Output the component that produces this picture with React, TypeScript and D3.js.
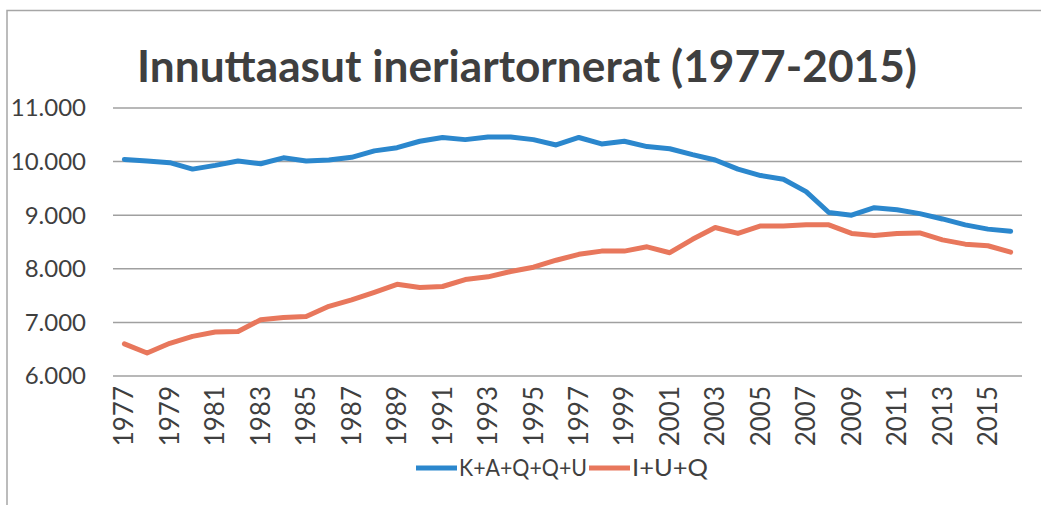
import { useEffect, useRef } from "react";
import * as d3 from "d3";

// Ukiut
const YEARS = d3.range(1977, 2017);

// K+A+Q+Q+U
const SERIES_KAQQU = [
  10040, 10010, 9980, 9860, 9930, 10010, 9960, 10070, 10010, 10030,
  10080, 10200, 10260, 10380, 10450, 10410, 10460, 10460, 10410, 10310,
  10450, 10330, 10380, 10280, 10240, 10130, 10030, 9860, 9740, 9670,
  9440, 9050, 9000, 9140, 9100, 9030, 8930, 8820, 8740, 8700
];

// I+U+Q
const SERIES_IUQ = [
  6600, 6430, 6610, 6740, 6820, 6830, 7050, 7090, 7110, 7300,
  7420, 7560, 7710, 7650, 7670, 7800, 7850, 7950, 8030, 8160,
  8270, 8330, 8330, 8410, 8300, 8550, 8770, 8660, 8800, 8800,
  8820, 8820, 8660, 8620, 8660, 8670, 8540, 8460, 8430, 8310
];

const SERIES_NAMES = ["K+A+Q+Q+U", "I+U+Q"];
const Y_TICKS = [6000, 7000, 8000, 9000, 10000, 11000];
const X_LABELS = YEARS.filter((y) => (y - 1977) % 2 === 0);

const COLORS = ["#2b87cd", "#e8775c"];
const FONT = "Lato, 'Open Sans', sans-serif";

const App = () => {
  const svgRef = useRef<SVGSVGElement>(null);

  useEffect(() => {
    if (!svgRef.current) return;
    const width = 1041;
    const height = 505;
    const svg = d3.select(svgRef.current);
    svg.selectAll("*").remove();

    svg.append("rect").attr("width", width).attr("height", height).attr("fill", "#fff");

    // ramme
    svg.append("path")
      .attr("d", `M7,${height} L7,10.5 L${width},10.5`)
      .attr("fill", "none")
      .attr("stroke", "#a6a6a6")
      .attr("stroke-width", 1.5);

    // Titel
    svg.append("text")
      .attr("x", 527)
      .attr("y", 82)
      .attr("text-anchor", "middle")
      .attr("font-family", FONT)
      .attr("font-weight", 700)
      .attr("font-size", 44)
      .attr("fill", "#3f3f3f")
      .attr("textLength", 780)
      .attr("lengthAdjust", "spacingAndGlyphs")
      .text("Innuttaasut ineriartornerat (1977-2015)");

    const x = d3.scaleBand<number>().domain(YEARS).range([113, 1022]);
    const y = d3.scaleLinear().domain([6000, 11000]).range([376, 108]);
    const cx = (yr: number) => (x(yr) ?? 0) + x.bandwidth() / 2;

    const fmt = d3.formatLocale({
      decimal: ",",
      thousands: ".",
      grouping: [3],
      currency: ["", ""]
    }).format(",.0f");

    // gitter
    svg.append("g")
      .selectAll("line")
      .data(Y_TICKS)
      .enter()
      .append("line")
      .attr("x1", 113)
      .attr("x2", 1022)
      .attr("y1", (d) => y(d))
      .attr("y2", (d) => y(d))
      .attr("stroke", "#a0a0a0")
      .attr("stroke-width", 1.5);

    // y etiketter
    svg.append("g")
      .selectAll("text")
      .data(Y_TICKS)
      .enter()
      .append("text")
      .attr("x", 86)
      .attr("y", (d) => y(d))
      .attr("dy", "0.35em")
      .attr("text-anchor", "end")
      .attr("font-family", FONT)
      .attr("font-size", 24)
      .attr("fill", "#3f3f3f")
      .text((d) => fmt(d));

    // x etiketter
    svg.append("g")
      .selectAll("text")
      .data(X_LABELS)
      .enter()
      .append("text")
      .attr("transform", (d) => `translate(${cx(d)},386) rotate(-90)`)
      .attr("dy", "0.35em")
      .attr("text-anchor", "end")
      .attr("font-family", FONT)
      .attr("font-size", 26)
      .attr("fill", "#3f3f3f")
      .text((d) => String(d));

    // linjer
    const line = d3.line<number>()
      .x((_, i) => cx(YEARS[i]))
      .y((d) => y(d));

    [SERIES_KAQQU, SERIES_IUQ].forEach((s, i) => {
      svg.append("path")
        .datum(s)
        .attr("fill", "none")
        .attr("stroke", COLORS[i])
        .attr("stroke-width", 5)
        .attr("stroke-linejoin", "round")
        .attr("stroke-linecap", "round")
        .attr("d", line);
    });

    // legende
    const legendX = [416, 589];
    const legendW = [128, 76];
    SERIES_NAMES.forEach((name, i) => {
      const lx = legendX[i];
      svg.append("line")
        .attr("x1", lx)
        .attr("x2", lx + 41)
        .attr("y1", 468)
        .attr("y2", 468)
        .attr("stroke", COLORS[i])
        .attr("stroke-width", 5);
      svg.append("text")
        .attr("x", lx + 43)
        .attr("y", 468)
        .attr("dy", "0.35em")
        .attr("font-family", FONT)
        .attr("font-size", 24)
        .attr("fill", "#3f3f3f")
        .attr("textLength", legendW[i])
        .attr("lengthAdjust", "spacingAndGlyphs")
        .text(name);
    });
  }, []);

  return (
    <svg
      ref={svgRef}
      width={1041}
      height={505}
      style={{ position: "absolute", left: 0, top: 0, display: "block" }}
    />
  );
};

export default App;
